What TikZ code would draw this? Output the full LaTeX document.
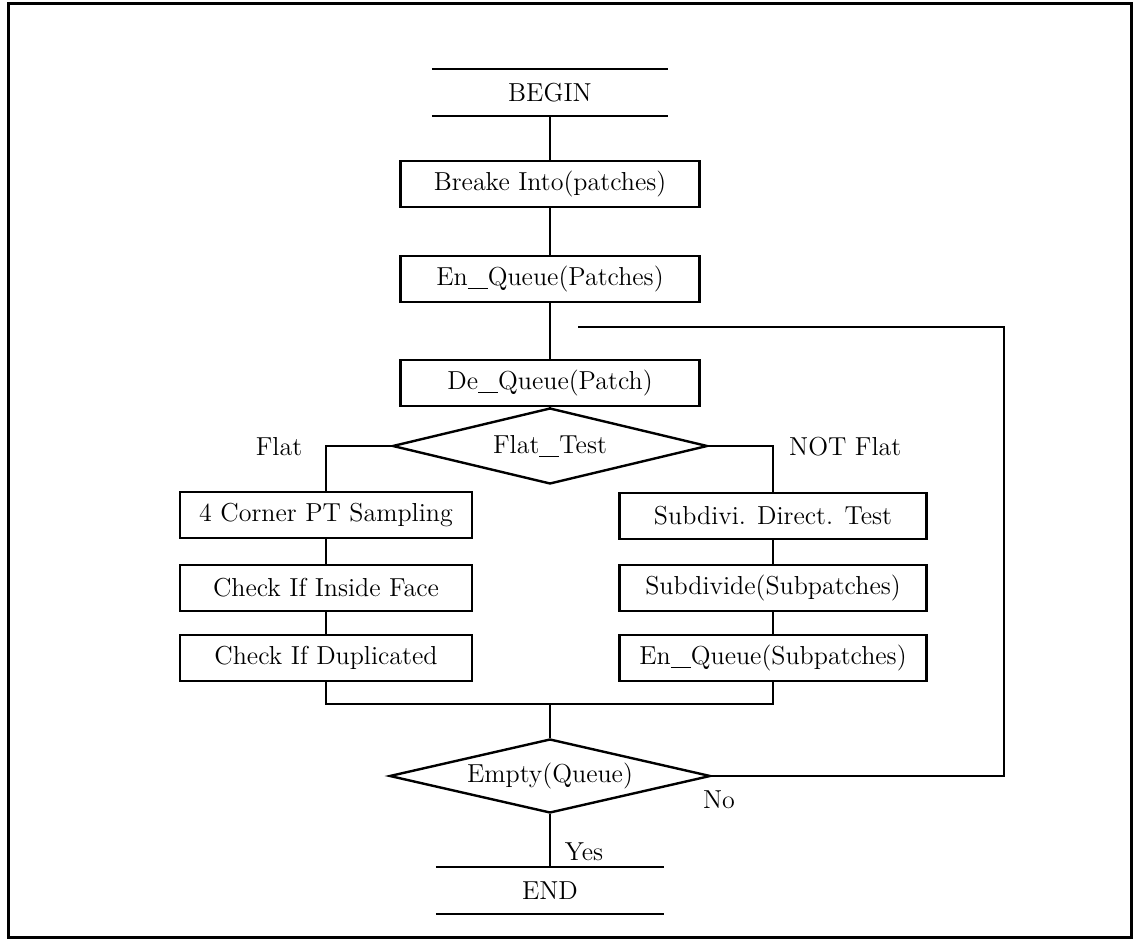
\documentclass[tikz,border=0pt]{standalone}
\usetikzlibrary{shapes.geometric}
\newcommand{\usbar}{\rule[-2pt]{10pt}{0.6pt}}
\tikzset{
  procbox/.style={draw, rectangle, minimum width=146pt, minimum height=23pt, inner sep=0pt},
  testdia/.style={draw, diamond, aspect=4, inner sep=0pt, minimum width=157.5pt, minimum height=38pt},
  termbox/.style={minimum width=117pt, minimum height=22.5pt, inner sep=0pt},
}
\begin{document}
\begin{tikzpicture}[x=0.5pt, y=-0.5pt, line width=1.2pt, font=\fontsize{13}{15}\selectfont]
     \useasboundingbox (0,0) rectangle (1141,940);
     % outer frame
     \draw[line width=1.5pt] (8,4) rectangle (1131,937);

     %%%%%%%%%%%%%%%%%%%%%%%%%%%%%%%%%%%%%%%%%%
     %%% Main column
     %%%%%%%%%%%%%%%%%%%%%%%%%%%%%%%%%%%%%%%%%%
     \node[termbox] (begin) at (550,92.5) {BEGIN};
     \draw (begin.north west) -- (begin.north east);
     \draw (begin.south west) -- (begin.south east);
     \node[procbox, minimum width=149.5pt] (breake) at (550,184) {Breake Into(patches)};
     \node[procbox, minimum width=149.5pt] (enqueue) at (550,279) {En\usbar Queue(Patches)};
     \node[procbox, minimum width=149.5pt] (dequeue) at (550,383) {De\usbar Queue(Patch)};
     \node[testdia] (flattest) at (550,446) {Flat\usbar Test};
     \draw (begin) -- (breake);
     \draw (breake) -- (enqueue);
     \draw (enqueue) -- (dequeue);
     \draw (dequeue) -- (flattest);

     %%%%%%%%%%%%%%%%%%%%%%%%%%%%%%%%%%%%%%%%%%
     %%% Flat branch (left)
     %%%%%%%%%%%%%%%%%%%%%%%%%%%%%%%%%%%%%%%%%%
     \node (flat) at (279,447) {Flat};
     \node[procbox] (corner) at (326,515) {4 Corner PT Sampling};
     \node[procbox] (inside) at (326,588) {Check If Inside Face};
     \node[procbox] (dupl) at (326,658) {Check If Duplicated};
     \draw (flattest.west) -| (corner.north);
     \draw (corner) -- (inside);
     \draw (inside) -- (dupl);

     %%%%%%%%%%%%%%%%%%%%%%%%%%%%%%%%%%%%%%%%%%
     %%% Not flat branch (right)
     %%%%%%%%%%%%%%%%%%%%%%%%%%%%%%%%%%%%%%%%%%
     \node[anchor=west, inner sep=0pt] (notflat) at (788,447) {NOT Flat};
     \node[procbox, minimum width=153.5pt] (direct) at (773,516) {Subdivi. Direct. Test};
     \node[procbox, minimum width=153.5pt] (subdiv) at (773,588) {Subdivide(Subpatches)};
     \node[procbox, minimum width=153.5pt] (enqsub) at (773,658) {En\usbar Queue(Subpatches)};
     \draw (flattest.east) -| (direct.north);
     \draw (direct) -- (subdiv);
     \draw (subdiv) -- (enqsub);

     % both branches meet again
     \coordinate (merge) at (550,704);
     \draw (dupl.south) |- (merge);
     \draw (enqsub.south) |- (merge);

     %%%%%%%%%%%%%%%%%%%%%%%%%%%%%%%%%%%%%%%%%%
     %%% Queue test and end
     %%%%%%%%%%%%%%%%%%%%%%%%%%%%%%%%%%%%%%%%%%
     \node[testdia, minimum width=160.5pt, minimum height=37pt] (empty) at (550,776) {Empty(Queue)};
     \draw (merge) -- (empty.north);
     \node (no) at (719,800) {No};
     \node (yes) at (584,852) {Yes};
     \node[termbox, minimum width=113pt] (end) at (550,890.5) {END};
     \draw (end.north west) -- (end.north east);
     \draw (end.south west) -- (end.south east);
     \draw (empty) -- (end);

     % loop back to De_Queue
     \coordinate (loopcorner) at (1004,327);
     \coordinate (loopend) at (578,327);
     \draw (empty.east) -| (loopcorner) -- (loopend);
\end{tikzpicture}
\end{document}
